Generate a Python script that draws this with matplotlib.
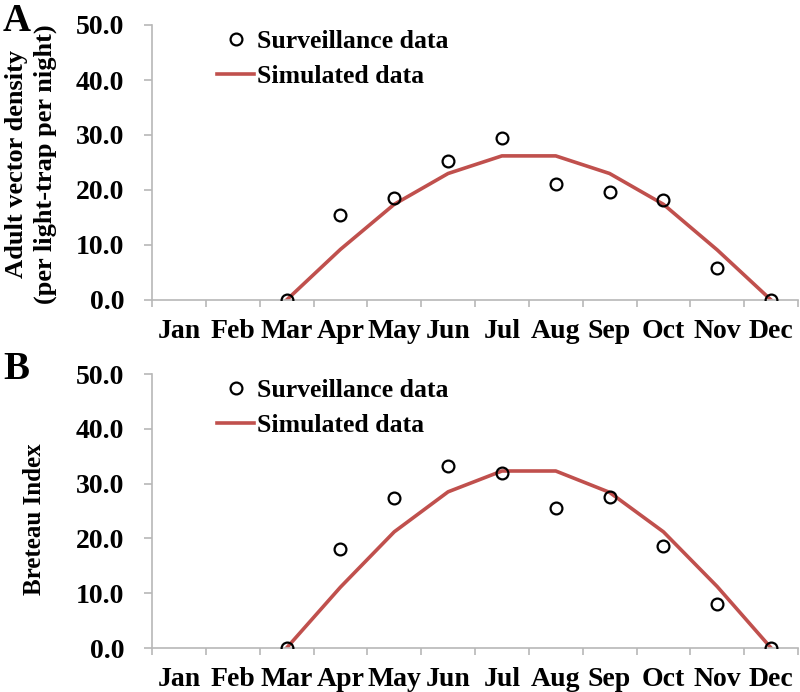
import numpy as np
import matplotlib
matplotlib.use("Agg")
import matplotlib.pyplot as plt

plt.rcParams['font.family'] = ['Liberation Serif', 'DejaVu Serif']
plt.rcParams['font.weight'] = 'bold'

months = ["Jan", "Feb", "Mar", "Apr", "May", "Jun", "Jul", "Aug", "Sep", "Oct", "Nov", "Dec"]
nan = np.nan
surv_A = [nan, nan, 0.0, 15.5, 18.5, 25.3, 29.5, 21.1, 19.6, 18.2, 5.8, 0.0]
sim_A = [nan, nan, 0.0, 9.2, 17.4, 23.0, 26.2, 26.2, 23.0, 17.4, 9.1, 0.0]
surv_B = [nan, nan, 0.0, 18.1, 27.3, 33.2, 31.9, 25.5, 27.5, 18.7, 8.0, 0.0]
sim_B = [nan, nan, 0.0, 11.1, 21.2, 28.5, 32.3, 32.3, 28.4, 21.2, 11.2, 0.0]
yticks = [0, 10, 20, 30, 40, 50]

W, H = 800, 692
fig = plt.figure(figsize=(W / 100, H / 100), dpi=100)

def ax_rect(l, t, r, b):
    return [l / W, 1 - b / H, (r - l) / W, (b - t) / H]

grey = "#b8b8b8"
red = "#C0504D"

def panel(rect, surv, sim, letter, letter_y, leg_top):
    ax = fig.add_axes(rect)
    x = np.arange(len(months))
    ax.plot(x, sim, color=red, lw=2.6, label="Simulated data", zorder=2)
    ax.plot(x, surv, linestyle="none", marker="o", markersize=8.5, markerfacecolor="none",
            markeredgecolor="black", markeredgewidth=1.6, label="Surveillance data", zorder=3)
    ax.set_xlim(-0.5, 11.5)
    ax.set_ylim(0, 50)
    ax.set_yticks(yticks)
    ax.set_yticklabels([f"{v:.1f}" for v in yticks], fontsize=20, fontweight="bold")
    ax.set_xticks(x)
    ax.set_xticklabels(months, fontsize=20, fontweight="bold")
    ax.set_xticks(np.arange(-0.5, 12.0, 1.0), minor=True)
    ax.tick_params(axis="x", which="major", length=0, pad=14)
    ax.tick_params(axis="x", which="minor", length=5, color=grey, width=1.2)
    ax.tick_params(axis="y", length=6, color=grey, width=1.2, pad=14)
    for s in ["top", "right"]:
        ax.spines[s].set_visible(False)
    for s in ["left", "bottom"]:
        ax.spines[s].set_color(grey)
        ax.spines[s].set_linewidth(1.2)
    h, l = ax.get_legend_handles_labels()
    ax.legend([h[1], h[0]], [l[1], l[0]], loc="upper left",
              bbox_to_anchor=(217 / W, 1 - leg_top / H), bbox_transform=fig.transFigure,
              frameon=False, prop={"size": 18.5, "weight": "bold"}, handlelength=1.45,
              handletextpad=0.1, labelspacing=0.45, borderpad=0, borderaxespad=0)
    fig.text(3 / W, 1 - letter_y / H, letter, fontsize=28, fontweight="bold", va="top", ha="left")
    return ax

axA = panel(ax_rect(152, 25, 798, 300), surv_A, sim_A, "A", 3, 30)
fig.text(17 / W, 1 - 164 / H, "Adult vector density", rotation=90, fontsize=19, fontweight="bold",
         va="center", ha="center")
fig.text(45 / W, 1 - 164 / H, "(per light-trap per night)", rotation=90, fontsize=19, fontweight="bold",
         va="center", ha="center")
axB = panel(ax_rect(152, 374, 798, 648), surv_B, sim_B, "B", 351, 379)
fig.text(35 / W, 1 - 519 / H, "Breteau Index", rotation=90, fontsize=18, fontweight="bold",
         va="center", ha="center")

fig.savefig("out.png", dpi=100)
